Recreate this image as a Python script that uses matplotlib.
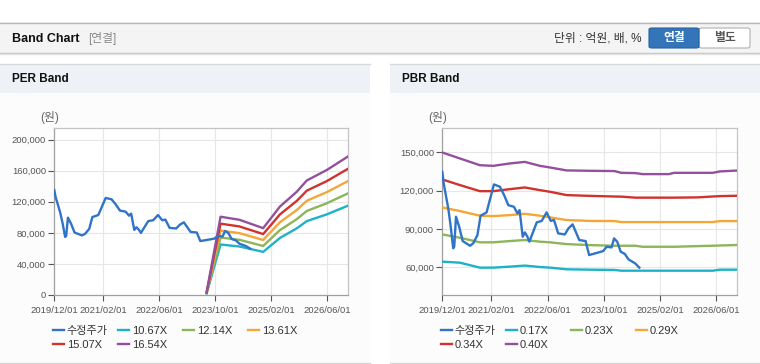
import matplotlib
matplotlib.use("Agg")
import matplotlib.pyplot as plt
from matplotlib.patches import Rectangle, FancyBboxPatch
from matplotlib.ticker import FuncFormatter

plt.rcParams['font.family'] = ['Liberation Sans', 'Noto Sans CJK KR']

W, H = 760, 364

# x 값 = 2019/12/01 기준 경과 개월 수
tick_months = [0, 14, 30, 46, 62, 78]
tick_labels = ['2019/12/01', '2021/02/01', '2022/06/01', '2023/10/01', '2025/02/01', '2026/06/01']

# 수정주가
price_m = [0, 0.4, 1.7, 2.4, 3.1, 3.4, 3.9, 4.8, 5.8, 7.9, 8.8, 10, 10.9, 12.6, 14.7, 16.4,
           17.6, 18.8, 20.4, 21.4, 22, 22.9, 23.5, 24.2, 24.8, 26.9, 28.3, 29.7, 30.9, 31.8,
           33, 34.9, 35.9, 37.1, 38.2, 39, 40.8, 41.8, 43.5, 45.8, 46.8, 48.2, 48.9, 49.8,
           50.8, 52, 53, 54.9, 56.1]
price = [134800, 125700, 106000, 91700, 74700, 76000, 99500, 91700, 80400, 76700, 78600, 85100,
         100300, 102900, 124900, 123100, 116500, 108600, 107300, 102100, 104700, 83800, 87200,
         84000, 79900, 95100, 96200, 102900, 96200, 97000, 86400, 85600, 90300, 93500, 86400,
         81200, 80400, 69400, 70700, 72500, 75900, 75400, 82500, 79900, 72000, 70200, 66000,
         62900, 59500]

# PER 밴드
per_m = [43.6, 47.6, 53, 59.8, 64.6, 69.4, 72.3, 78, 84]
per_1067 = [2100, 65000, 62400, 55500, 73400, 85700, 95100, 103700, 114800]
per_1214 = [2400, 73900, 71000, 63100, 83500, 97500, 108200, 118000, 130600]
per_1361 = [2700, 82900, 79600, 70800, 93600, 109300, 121300, 132300, 146400]
per_1507 = [3000, 91800, 88200, 78400, 103700, 121000, 134300, 146500, 162200]
per_1654 = [3300, 100700, 96800, 86000, 113800, 132800, 147400, 160800, 178000]
per_labels = ['10.67X', '12.14X', '13.61X', '15.07X', '16.54X']
per_yticks = [0, 40000, 80000, 120000, 160000, 200000]

# PBR 밴드
pbr_m = [0, 5, 10.7, 14.5, 19.3, 23.5, 27.8, 30.7, 35.4, 42, 49, 51, 55, 57, 64.5, 66,
         72.5, 77, 79, 84]
pbr_017 = [64200, 63400, 59500, 59500, 60300, 61100, 60000, 59500, 58200, 57900, 57700, 57100,
           57100, 57100, 57100, 57100, 57100, 57100, 57900, 57900]
pbr_023 = [85600, 83000, 79400, 79400, 80400, 81200, 79900, 79400, 78000, 77200, 76700, 76700,
           76700, 75900, 75900, 75900, 76400, 76700, 76900, 77300]
pbr_029 = [106800, 104000, 100300, 100000, 100800, 101800, 100300, 99000, 96900, 96200, 96100,
           95300, 95300, 95300, 95300, 95300, 95300, 95300, 96100, 96100]
pbr_034 = [128800, 124400, 119600, 119600, 121200, 122500, 120400, 119100, 116500, 115900,
           115400, 115300, 114500, 114500, 114500, 114500, 114700, 115400, 115700, 116000]
pbr_040 = [150000, 145300, 140000, 139500, 141400, 142600, 139500, 138200, 135900, 135600,
           135400, 134000, 133800, 133000, 133000, 134000, 134000, 134000, 135100, 135800]
pbr_labels = ['0.17X', '0.23X', '0.29X', '0.34X', '0.40X']
pbr_yticks = [60000, 90000, 120000, 150000]

band_colors = ['#1db2c8', '#8db55a', '#f4a736', '#d0322e', '#93509c']
price_color = '#2f74c8'


def fx(x):
    return x / W


def fy(y):
    return 1 - y / H


fig = plt.figure(figsize=(7.6, 3.64), dpi=100)
fig.patch.set_facecolor('white')


def rect(x0, y0, x1, y1, **kw):
    fig.patches.append(Rectangle((fx(x0), fy(y1)), fx(x1 - x0), (y1 - y0) / H,
                                 transform=fig.transFigure, zorder=-10, **kw))


def hline(x0, x1, y, color, lw=1):
    fig.add_artist(plt.Line2D([fx(x0), fx(x1)], [fy(y), fy(y)], transform=fig.transFigure,
                              color=color, lw=lw, zorder=-5))


# 상단 헤더
rect(0, 22, 760, 53, facecolor='#f4f4f4', edgecolor='none')
hline(0, 760, 22.5, '#b8b8b8')
hline(0, 760, 53, '#c4c4c4')
hline(0, 760, 54, '#e4e4e4')
fig.text(fx(12), fy(38.5), 'Band Chart', fontsize=9, fontweight='bold', color='#111',
         va='center', ha='left')
fig.text(fx(88), fy(38.5), '[연결]', fontsize=8.5, color='#888', va='center', ha='left')
fig.text(fx(642), fy(38.5), '단위 : 억원, 배, %', fontsize=8.5, color='#333', va='center',
         ha='right')

btn_blue = FancyBboxPatch((fx(649), fy(48)), fx(50), 20 / H, boxstyle='round,pad=0,rounding_size=0.004',
                          transform=fig.transFigure, facecolor='#3474b9', edgecolor='#2a63a3', lw=0.8)
btn_white = FancyBboxPatch((fx(699), fy(48)), fx(51), 20 / H, boxstyle='round,pad=0,rounding_size=0.004',
                           transform=fig.transFigure, facecolor='white', edgecolor='#b0b0b0', lw=0.8)
fig.patches.extend([btn_white, btn_blue])
fig.text(fx(674), fy(38.5), '연결', fontsize=8.5, fontweight='bold', color='white',
         va='center', ha='center')
fig.text(fx(724.5), fy(38.5), '별도', fontsize=8.5, fontweight='bold', color='#555',
         va='center', ha='center')


def panel(x0, x1, title):
    rect(x0, 64, x1, 93, facecolor='#eef2f7', edgecolor='none')
    rect(x0, 93, x1, 362, facecolor='#fcfcfc', edgecolor='none')
    hline(x0, x1, 64, '#d8d8d8')
    hline(x0, x1, 362.5, '#d4d4d4')
    fig.text(fx(x0 + 12), fy(79.5), title, fontsize=8.5, fontweight='bold', color='#111',
             va='center', ha='left')


panel(0, 370, 'PER Band')
panel(390, 760, 'PBR Band')


def draw(left, right, ylim, yticks, bands_m, bands, labels):
    ax = fig.add_axes([fx(left), fy(295), fx(right - left), (295 - 128.3) / H])
    ax.set_facecolor('white')
    lines = []
    for vals, lab, col in zip(bands, labels, band_colors):
        ln, = ax.plot(bands_m, vals, color=col, lw=1.7, label=lab, zorder=3)
        lines.append(ln)
    pl, = ax.plot(price_m, price, color=price_color, lw=1.7, label='수정주가', zorder=4)
    ax.set_xlim(0, 84)
    ax.set_ylim(*ylim)
    ax.set_xticks(tick_months)
    ax.set_xticklabels(tick_labels)
    ax.set_yticks(yticks)
    ax.yaxis.set_major_formatter(FuncFormatter(lambda v, p: f'{v:,.0f}'))
    ax.tick_params(labelsize=6.8, colors='#555', length=4, width=0.8, pad=2)
    ax.tick_params(axis='x', pad=4)
    ax.grid(True, color='#e6e6e6', lw=0.8, zorder=0)
    ax.set_axisbelow(True)
    for s in ax.spines.values():
        s.set_color('#c4c4c4')
        s.set_linewidth(0.9)
    ax.spines['left'].set_color('#a0a0a0')
    ax.spines['bottom'].set_color('#a0a0a0')
    fig.text(fx(left - 5), fy(117), '(원)', fontsize=8.5, color='#666', ha='center', va='center')

    order = [pl] + lines
    cols = [[order[0], order[4]], [order[1], order[5]], [order[2]], [order[3]]]
    for i, hs in enumerate(cols):
        leg = fig.legend(handles=hs, labels=[h.get_label() for h in hs], loc='upper left',
                         bbox_to_anchor=(fx(left - 1.5 + 65 * i), fy(326)),
                         bbox_transform=fig.transFigure, frameon=False, fontsize=8,
                         handlelength=1.05, handletextpad=0.2, labelspacing=0.32,
                         borderpad=0, borderaxespad=0)
        for t in leg.get_texts():
            t.set_color('#333')
    return ax


draw(54.3, 347.7, (0, 214500), per_yticks, per_m,
     [per_1067, per_1214, per_1361, per_1507, per_1654], per_labels)
draw(442.3, 737.3, (38000, 169000), pbr_yticks, pbr_m,
     [pbr_017, pbr_023, pbr_029, pbr_034, pbr_040], pbr_labels)

fig.savefig('out.png', dpi=100)
